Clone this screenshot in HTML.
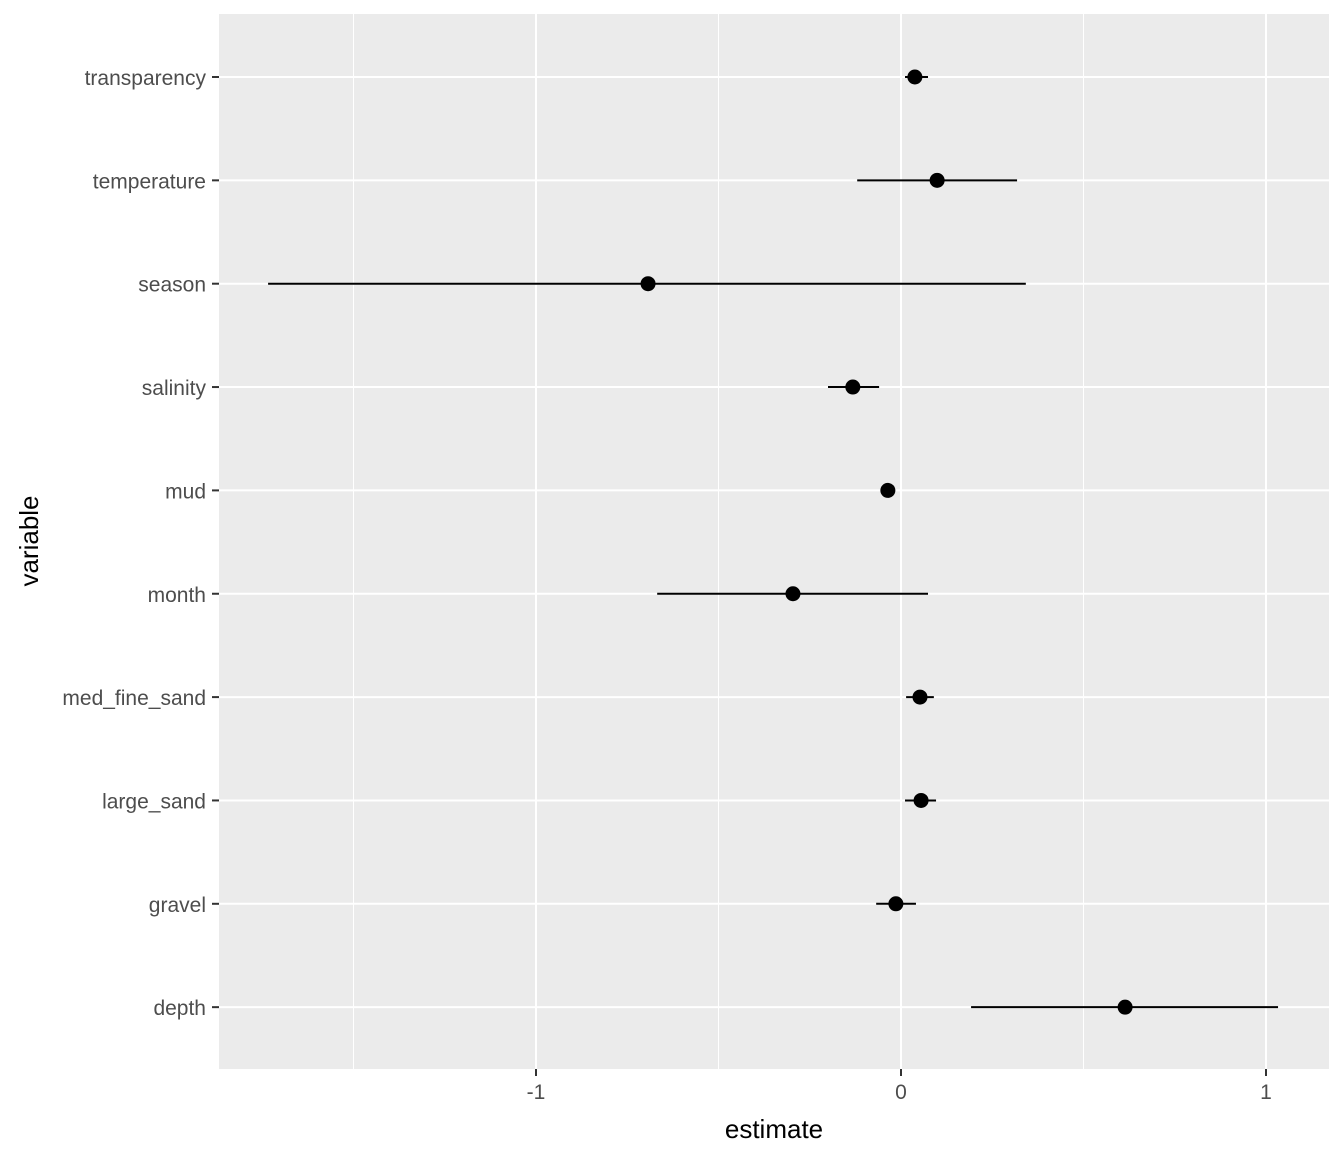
<!DOCTYPE html>
<html><head><meta charset="utf-8"><style>body{margin:0;background:#fff}svg{display:block}text{font-family:"Liberation Sans",Arial,sans-serif}</style></head>
<body>
<svg id="chart" width="1344" height="1152" xmlns="http://www.w3.org/2000/svg">
<rect x="219" y="14" width="1110" height="1055" fill="#ebebeb"/>
<g id="grid"></g><g id="marks"></g><g id="axes"></g>
<text x="774" y="1138" font-size="26" text-anchor="middle" fill="#000">estimate</text>
<text transform="translate(38,541) rotate(-90)" font-size="26" text-anchor="middle" fill="#000">variable</text>
</svg>
<script>
const categories=["transparency","temperature","season","salinity","mud","month","med_fine_sand","large_sand","gravel","depth"];
const estimates=[0.038,0.099,-0.693,-0.132,-0.036,-0.296,0.052,0.055,-0.014,0.614];
const lower=[0.011,-0.12,-1.734,-0.2,-0.05,-0.668,0.014,0.011,-0.068,0.192];
const upper=[0.074,0.318,0.342,-0.06,-0.02,0.074,0.09,0.096,0.041,1.033];
const xTicks=[-1,0,1];
const xMinor=[-1.5,-0.5,0.5];
const NS="http://www.w3.org/2000/svg";
const x=v=>901+v*365;
const y=i=>77+i*103.35;
function mk(p,t,a){const e=document.createElementNS(NS,t);for(const k in a)e.setAttribute(k,a[k]);document.getElementById(p).appendChild(e);return e;}
xMinor.forEach(v=>{const l=mk('grid','line',{x1:x(v),x2:x(v),y1:14,y2:1069,stroke:'#fff','stroke-width':1});

});
xTicks.forEach(v=>{const l=mk('grid','line',{x1:x(v),x2:x(v),y1:14,y2:1069,stroke:'#fff','stroke-width':2});


const t=mk('axes','line',{x1:x(v),x2:x(v),y1:1069,y2:1076,stroke:'#333','stroke-width':2});


const tx=mk('axes','text',{x:x(v),y:1099,'font-size':21,'text-anchor':'middle',fill:'#4d4d4d'});tx.textContent=v;

});
categories.forEach((c,i)=>{const g=mk('grid','line',{x1:219,x2:1329,y1:y(i),y2:y(i),stroke:'#fff','stroke-width':2});


const t=mk('axes','line',{x1:212,x2:219,y1:y(i),y2:y(i),stroke:'#333','stroke-width':2});


const tx=mk('axes','text',{x:206,y:y(i)+8,'font-size':21,'text-anchor':'end',fill:'#4d4d4d'});tx.textContent=c;


const l=mk('marks','line',{x1:x(lower[i]),x2:x(upper[i]),y1:y(i),y2:y(i),stroke:'#000','stroke-width':2});


const p=mk('marks','circle',{cx:x(estimates[i]),cy:y(i),r:7.5,fill:'#000'});

});
</script>
</body></html>
